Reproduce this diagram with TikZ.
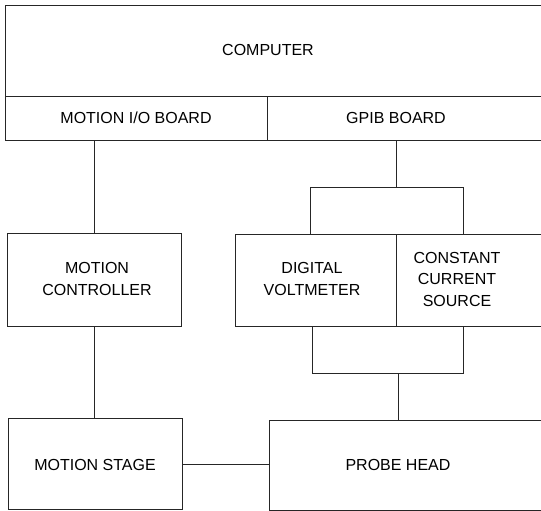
\documentclass[tikz,border=0pt]{standalone}
\usepackage{fontspec}
\setmainfont{Liberation Sans}
\begin{document}
\begin{tikzpicture}[x=1pt,y=-1pt,
  box/.style={draw=black!85, line width=0.75pt, rectangle, inner sep=0pt, anchor=north west},
  lbl/.style={font=\fontsize{16}{21.5}\selectfont, align=center, inner sep=0pt, text=black},
  wire/.style={draw=black!85, line width=0.75pt}]
\useasboundingbox (0,0) rectangle (541,511);
% boxes
\node[box, minimum width=540pt, minimum height=91pt] (comp) at (5,5) {};
\node[box, minimum width=262pt, minimum height=44pt] (mio) at (5,96) {};
\node[box, minimum width=278pt, minimum height=44pt] (gpib) at (267,96) {};
\node[box, minimum width=174pt, minimum height=93pt] (mc) at (7,233) {};
\node[box, minimum width=161pt, minimum height=92pt] (dvm) at (235,234) {};
\node[box, minimum width=149pt, minimum height=92pt] (ccs) at (396,234) {};
\node[box, minimum width=174pt, minimum height=91pt] (ms) at (8,418) {};
\node[box, minimum width=276pt, minimum height=90pt] (ph) at (269,420) {};
% labels
\node[lbl] (tcomp) at (268,50) {COMPUTER};
\node[lbl] (tmio) at (136,118) {MOTION I/O BOARD};
\node[lbl] (tgpib) at (396,118) {GPIB BOARD};
\node[lbl] (tmc) at (97,279) {MOTION\\CONTROLLER};
\node[lbl] (tdvm) at (312,279) {DIGITAL\\VOLTMETER};
\node[lbl] (tccs) at (457,279) {CONSTANT\\CURRENT\\SOURCE};
\node[lbl] (tms) at (95,465) {MOTION STAGE};
\node[lbl] (tph) at (398,465) {PROBE HEAD};
% junction points
\coordinate (busL) at (310,187);
\coordinate (busM) at (396,187);
\coordinate (busR) at (463,187);
\coordinate (botL) at (312,373);
\coordinate (botM) at (398,373);
\coordinate (botR) at (463,373);
% connectors
\draw[wire] (mc.north) -- (mc.north |- mio.south);
\draw[wire] (mc.south) -- (mc.south |- ms.north);
\draw[wire] (busM) -- (busM |- gpib.south);
\draw[wire] (busL |- dvm.north) -- (busL) -- (busR) -- (busR |- ccs.north);
\draw[wire] (botL |- dvm.south) -- (botL) -- (botR) -- (botR |- ccs.south);
\draw[wire] (botM) -- (botM |- ph.north);
\draw[wire] (ms.east) -- (ms.east -| ph.west);
\end{tikzpicture}
\end{document}
